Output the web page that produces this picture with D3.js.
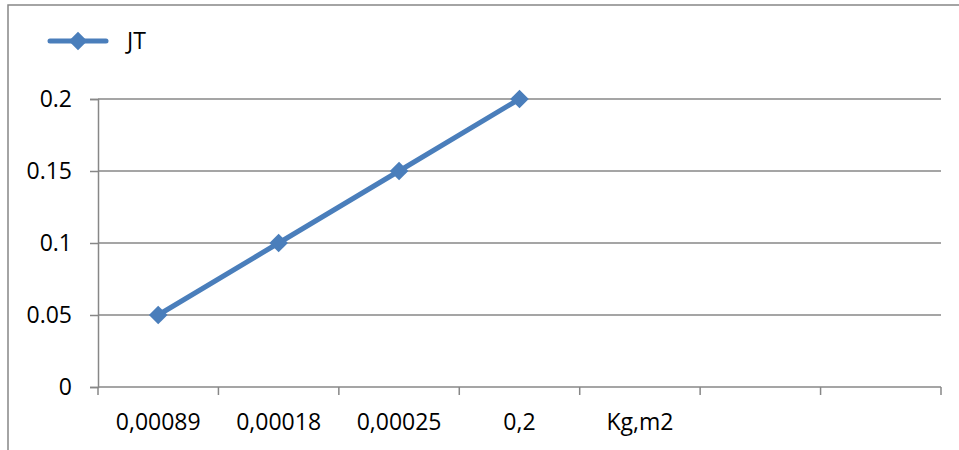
<!DOCTYPE html>
<html>
<head>
<meta charset="utf-8">
<script src="https://cdn.jsdelivr.net/npm/d3@7"></script>
<style>
  body { margin: 0; background: #fff; }
  svg text { font-family: "Open Sans", sans-serif; font-size: 23px; fill: #000; }
</style>
</head>
<body>
<svg id="chart" width="959" height="450"></svg>
<script>
// category labels on the x axis (last two are empty slots)
const categories = ["0,00089", "0,00018", "0,00025", "0,2", "Kg,m2", "", ""];
// JT series values
const jtValues = [0.05, 0.1, 0.15, 0.2];
// y axis ticks
const yTicks = [0, 0.05, 0.1, 0.15, 0.2];
const seriesName = "JT";

const svg = d3.select("#chart");
const blue = "#4a7ebb";
const grey = "#878787";

// outer frame (only left and top are visible)
svg.append("rect")
  .attr("x", 8).attr("y", 5)
  .attr("width", 1000).attr("height", 500)
  .attr("fill", "none")
  .attr("stroke", grey)
  .attr("stroke-width", 1.5);

const plot = { left: 98, right: 941, top: 99, bottom: 387 };

const x = d3.scaleBand()
  .domain(categories.map((c, i) => i))
  .range([plot.left, plot.right])
  .padding(0);

const y = d3.scaleLinear()
  .domain([0, 0.2])
  .range([plot.bottom, plot.top]);

// gridlines
svg.append("g")
  .selectAll("line")
  .data(yTicks.filter(d => d > 0))
  .join("line")
    .attr("x1", plot.left).attr("x2", plot.right)
    .attr("y1", d => y(d)).attr("y2", d => y(d))
    .attr("stroke", grey)
    .attr("stroke-width", 1.5);

// y axis
const yAxis = svg.append("g")
  .attr("transform", `translate(${plot.left},0)`)
  .call(d3.axisLeft(y).tickValues(yTicks).tickSize(8).tickPadding(18)
    .tickFormat(d => String(d)));
yAxis.select(".domain").attr("stroke", grey).attr("stroke-width", 1.5);
yAxis.selectAll(".tick line").attr("stroke", grey).attr("stroke-width", 1.5);
yAxis.selectAll("text").attr("font-size", 23).attr("font-family", "Open Sans").attr("fill", "#000");

// x axis line and ticks at band edges
const xg = svg.append("g");
xg.append("line")
  .attr("x1", plot.left).attr("x2", plot.right)
  .attr("y1", plot.bottom).attr("y2", plot.bottom)
  .attr("stroke", grey).attr("stroke-width", 1.5);
const edges = categories.map((c, i) => x(i)).concat([x(categories.length - 1) + x.bandwidth()]);
xg.selectAll(".xtick")
  .data(edges)
  .join("line")
    .attr("class", "xtick")
    .attr("x1", d => d).attr("x2", d => d)
    .attr("y1", plot.bottom).attr("y2", plot.bottom + 8)
    .attr("stroke", grey).attr("stroke-width", 1.5);
xg.selectAll(".xlabel")
  .data(categories)
  .join("text")
    .attr("class", "xlabel")
    .attr("x", (d, i) => x(i) + x.bandwidth() / 2)
    .attr("y", 430)
    .attr("text-anchor", "middle")
    .text(d => d);

// series line
const line = d3.line()
  .x((d, i) => x(i) + x.bandwidth() / 2)
  .y(d => y(d));

svg.append("path")
  .datum(jtValues)
  .attr("d", line)
  .attr("fill", "none")
  .attr("stroke", blue)
  .attr("stroke-width", 5)
  .attr("stroke-linejoin", "round");

const diamond = d3.symbol().type(d3.symbolDiamond2).size(220);

svg.append("g")
  .selectAll("path")
  .data(jtValues)
  .join("path")
    .attr("d", diamond)
    .attr("transform", (d, i) => `translate(${x(i) + x.bandwidth() / 2},${y(d)})`)
    .attr("fill", blue);

// legend
const legend = svg.append("g").attr("transform", "translate(50,41)");
legend.append("line")
  .attr("x1", 0).attr("x2", 56)
  .attr("stroke", blue).attr("stroke-width", 5)
  .attr("stroke-linecap", "round");
legend.append("path")
  .attr("d", diamond)
  .attr("transform", "translate(28,0)")
  .attr("fill", blue);
legend.append("text")
  .attr("x", 77).attr("y", 8)
  .text(seriesName);
</script>
</body>
</html>
